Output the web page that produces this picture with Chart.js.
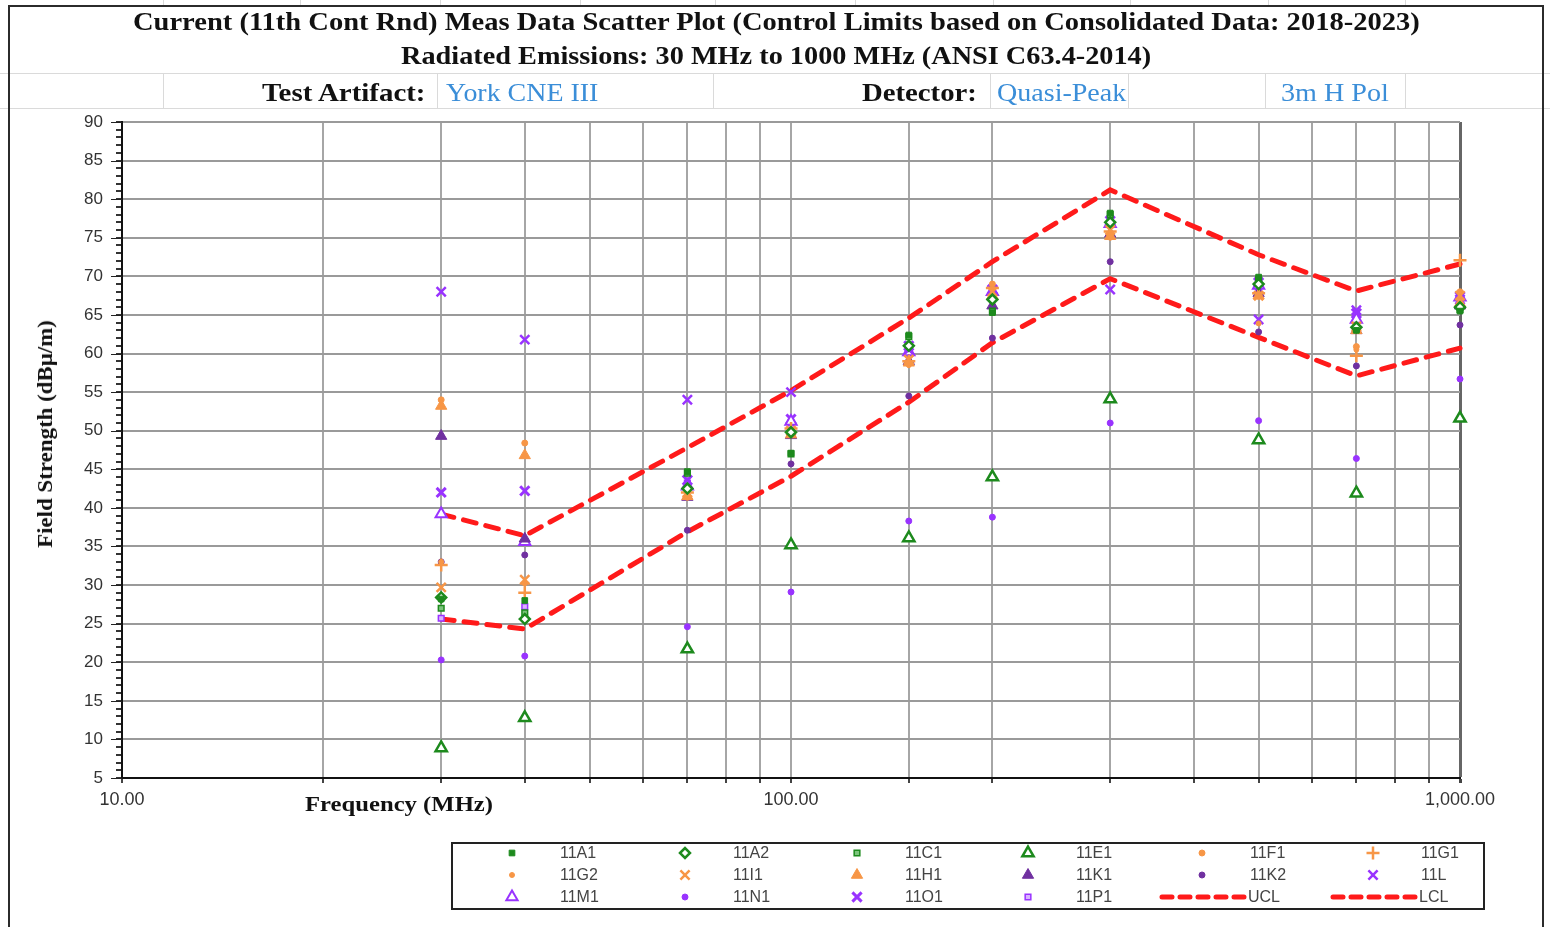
<!DOCTYPE html>
<html>
<head>
<meta charset="utf-8">
<script src="https://cdn.jsdelivr.net/npm/chart.js@4.4.1/dist/chart.umd.min.js"></script>
<style>
  html, body { margin: 0; padding: 0; background: #fff; }
  #page { position: relative; width: 1550px; height: 927px; overflow: hidden; }
  #chart { position: absolute; left: 0; top: 0; }
  .cell { position: absolute; background: #dadada; }
  .frame { position: absolute; background: #2b2b2b; }
  .txt {
    position: absolute; white-space: nowrap; line-height: 1;
    font-family: 'Liberation Serif', 'Times New Roman', serif; font-size: 25px; color: #111;
  }
  .bold { font-weight: bold; }
  .blue { color: #3b8ed8; }
</style>
</head>
<body>
<div id="page">
  <!-- spreadsheet cell lines behind the chart object -->
  <div class="cell" style="left:0;top:73px;width:1550px;height:1px"></div>
  <div class="cell" style="left:0;top:108px;width:1550px;height:1px"></div>
  <div class="cell" style="left:163px;top:0;width:1px;height:5px"></div>
  <div class="cell" style="left:300px;top:0;width:1px;height:5px"></div>
  <div class="cell" style="left:440px;top:0;width:1px;height:5px"></div>
  <div class="cell" style="left:580px;top:0;width:1px;height:5px"></div>
  <div class="cell" style="left:715px;top:0;width:1px;height:5px"></div>
  <div class="cell" style="left:855px;top:0;width:1px;height:5px"></div>
  <div class="cell" style="left:993px;top:0;width:1px;height:5px"></div>
  <div class="cell" style="left:1130px;top:0;width:1px;height:5px"></div>
  <div class="cell" style="left:1268px;top:0;width:1px;height:5px"></div>
  <div class="cell" style="left:1405px;top:0;width:1px;height:5px"></div>
  <div class="cell" style="left:163px;top:74px;width:1px;height:34px"></div>
  <div class="cell" style="left:437px;top:74px;width:1px;height:34px"></div>
  <div class="cell" style="left:713px;top:74px;width:1px;height:34px"></div>
  <div class="cell" style="left:990px;top:74px;width:1px;height:34px"></div>
  <div class="cell" style="left:1128px;top:74px;width:1px;height:34px"></div>
  <div class="cell" style="left:1265px;top:74px;width:1px;height:34px"></div>
  <div class="cell" style="left:1405px;top:74px;width:1px;height:34px"></div>

  <div class="frame" style="left:9px;top:5px;width:1535px;height:2px"></div>
  <div class="frame" style="left:8px;top:5px;width:2px;height:922px"></div>
  <div class="frame" style="left:1542px;top:5px;width:2px;height:922px"></div>

  <canvas id="chart" width="1550" height="927"></canvas>

  <div class="txt bold fit" data-x="133" data-w="1287" style="top:9px">Current (11th Cont Rnd) Meas Data Scatter Plot (Control Limits based on Consolidated Data: 2018-2023)</div>
  <div class="txt bold fit" data-x="401" data-w="750" style="top:43px">Radiated Emissions: 30 MHz to 1000 MHz (ANSI C63.4-2014)</div>
  <div class="txt bold fit" data-x="262" data-w="163" style="top:80px">Test Artifact:</div>
  <div class="txt blue fit" data-x="446" data-w="152" style="top:80px">York CNE III</div>
  <div class="txt bold fit" data-x="862" data-w="115" style="top:80px">Detector:</div>
  <div class="txt blue fit" data-x="997" data-w="129" style="top:80px">Quasi-Peak</div>
  <div class="txt blue fit" data-x="1281" data-w="108" style="top:80px">3m H Pol</div>
  <div class="txt bold fitc" data-cx="45" data-cy="434" data-w="228" data-rot="-90" style="font-size:20px">Field Strength (dBμ/m)</div>
  <div class="txt bold fitc" data-cx="399" data-cy="804" data-w="188" style="font-size:21px">Frequency (MHz)</div>
</div>

<script>
// Frequencies (MHz) of the measurement points
const freqs = [30, 40, 70, 100, 150, 200, 300, 500, 700, 1000];

// Control limits (dBμV/m)
const ucl = [39.2, 36.4, 47.8, 55.2, 64.6, 71.9, 81.2, 72.8, 68.1, 71.6];
const lcl = [25.6, 24.3, 36.9, 44.1, 53.7, 61.4, 69.7, 62.1, 57.1, 60.7];

// Lab measurements (dBμV/m), one value per frequency
const s11A1 = [28.2, 28.0, 44.7, 47.1, 62.4, 65.3, 78.2, 69.9, 63.0, 65.5];
const s11A2 = [28.4, 25.6, 42.5, 49.8, 61.0, 67.0, 77.0, 69.0, 63.4, 66.0];
const s11C1 = [27.0, 26.4, 44.5, 47.0, 62.2, 65.5, 78.0, 69.6, 63.2, 65.7];
const s11E1 = [8.9, 12.8, 21.7, 35.2, 36.1, 44.0, 54.1, 48.8, 41.9, 51.6];
const s11F1 = [54.0, 48.4, 41.6, 50.0, 58.8, 69.0, 75.3, 67.6, 60.9, 68.0];
const s11G1 = [32.6, 29.0, 42.0, 50.3, 59.0, 68.5, 75.8, 67.8, 59.7, 72.1];
const s11G2 = [33.0, 30.2, 41.3, 49.5, 58.5, 67.2, 75.0, 63.9, 60.5, 67.9];
const s11I1 = [29.7, 30.7, 42.0, 50.0, 59.2, 68.0, 76.0, 67.5, 63.5, 67.5];
const s11H1 = [53.2, 46.8, 41.5, 49.5, 58.8, 67.5, 75.2, 67.5, 63.0, 66.5];
const s11K1 = [49.3, 36.0, 41.4, 49.4, 59.0, 66.2, 75.5, 67.8, 63.0, 66.2];
const s11K2 = [33.0, 33.9, 37.1, 45.7, 54.5, 62.0, 71.9, 62.8, 58.4, 63.7];
const s11L  = [68.0, 61.8, 54.0, 55.0, 60.5, 68.2, 68.3, 64.4, 65.6, 67.0];
const s11M1 = [39.2, 35.6, 42.8, 51.2, 60.2, 68.0, 76.8, 68.8, 64.4, 67.3];
const s11N1 = [20.3, 20.8, 24.6, 29.1, 38.3, 38.8, 51.0, 51.3, 46.4, 56.7];
const s11O1 = [42.0, 42.2, 43.6, 51.5, 61.0, 68.3, 77.2, 69.2, 65.2, 67.4];
const s11P1 = [25.7, 27.2, 43.2, 51.0, 60.5, 67.8, 77.5, 68.6, 64.0, 66.8];

// Axis ticks
const xTickLabels = { 10: '10.00', 100: '100.00', 1000: '1,000.00' };
const yMin = 5, yMax = 90;

// Colours
const GREEN = '#1d8a1d';
const ORANGE = '#f79646';
const PURPLE = '#9933ff';
const DPURPLE = '#7030a0';
const RED = '#ff1a1a';

const series = [
  { label: '11A1', data: s11A1, style: 'rect',     r: 4,   fill: GREEN,   line: GREEN,   bw: 1 },
  { label: '11A2', data: s11A2, style: 'rectRot',  r: 5,   fill: '#fff',  line: GREEN,   bw: 2.5 },
  { label: '11C1', data: s11C1, style: 'rect',     r: 4,   fill: '#7cc47c', line: GREEN, bw: 1.5 },
  { label: '11E1', data: s11E1, style: 'triangle', r: 6.5, fill: '#fff',  line: GREEN,   bw: 2.5 },
  { label: '11F1', data: s11F1, style: 'circle',   r: 3,   fill: ORANGE,  line: ORANGE,  bw: 1 },
  { label: '11G1', data: s11G1, style: 'cross',    r: 6.5, fill: ORANGE,  line: ORANGE,  bw: 2.5 },
  { label: '11G2', data: s11G2, style: 'circle',   r: 2.5, fill: ORANGE,  line: ORANGE,  bw: 1 },
  { label: '11I1', data: s11I1, style: 'crossRot', r: 6.5, fill: ORANGE,  line: ORANGE,  bw: 2.5 },
  { label: '11H1', data: s11H1, style: 'triangle', r: 6.5, fill: ORANGE,  line: ORANGE,  bw: 1 },
  { label: '11K1', data: s11K1, style: 'triangle', r: 6.5, fill: DPURPLE, line: DPURPLE, bw: 1 },
  { label: '11K2', data: s11K2, style: 'circle',   r: 3,   fill: DPURPLE, line: DPURPLE, bw: 1 },
  { label: '11L',  data: s11L,  style: 'crossRot', r: 6.5, fill: PURPLE,  line: PURPLE,  bw: 2.5 },
  { label: '11M1', data: s11M1, style: 'triangle', r: 6.5, fill: '#fff',  line: PURPLE,  bw: 2 },
  { label: '11N1', data: s11N1, style: 'circle',   r: 3,   fill: PURPLE,  line: PURPLE,  bw: 1 },
  { label: '11O1', data: s11O1, style: 'crossRot', r: 6.5, fill: PURPLE,  line: PURPLE,  bw: 3 },
  { label: '11P1', data: s11P1, style: 'rect',     r: 4,   fill: '#d9b3ff', line: PURPLE, bw: 1.5 }
];

const toPoints = vals => freqs.map((f, i) => ({ x: f, y: vals[i] }));

const datasets = series.map(s => ({
  type: 'scatter',
  label: s.label,
  data: toPoints(s.data),
  pointStyle: s.style,
  pointRadius: s.r,
  backgroundColor: s.fill,
  borderColor: s.line,
  pointBorderWidth: s.bw,
  clip: false,
  order: 0
}));

[['UCL', ucl], ['LCL', lcl]].forEach(([label, vals]) => {
  datasets.push({
    type: 'line',
    label: label,
    data: toPoints(vals),
    borderColor: RED,
    borderWidth: 5,
    borderDash: [13, 10],
    borderCapStyle: 'round',
    pointRadius: 0,
    fill: false,
    tension: 0,
    clip: 4,
    order: 1
  });
});

// legend box under the plot, 6 columns x 3 rows
const legendBox = { left: 452, top: 843, width: 1032, height: 66 };
const legendCols = [512, 685, 857, 1028, 1202, 1373];
const legendRows = [853, 875, 897];

const boxLegend = {
  id: 'boxLegend',
  afterDraw(chart) {
    const ctx = chart.ctx;
    const yScale = chart.scales.y;
    ctx.save();

    // longer major ticks on the y axis
    ctx.strokeStyle = '#222';
    ctx.lineWidth = 1;
    for (let v = yMin; v <= yMax; v += 5) {
      const py = Math.round(yScale.getPixelForValue(v)) + 0.5;
      ctx.beginPath();
      ctx.moveTo(chart.chartArea.left - 11, py);
      ctx.lineTo(chart.chartArea.left, py);
      ctx.stroke();
    }

    ctx.strokeStyle = '#222';
    ctx.lineWidth = 2;
    ctx.strokeRect(legendBox.left, legendBox.top, legendBox.width, legendBox.height);

    ctx.font = '16px "Liberation Sans", Arial, sans-serif';
    ctx.fillStyle = '#444';
    ctx.textBaseline = 'middle';

    chart.data.datasets.forEach((ds, i) => {
      const mx = legendCols[i % 6];
      const my = legendRows[Math.floor(i / 6)];
      if (ds.type === 'line') {
        ctx.save();
        ctx.strokeStyle = ds.borderColor;
        ctx.lineWidth = ds.borderWidth;
        ctx.lineCap = 'round';
        ctx.setLineDash([10, 8]);
        ctx.beginPath();
        ctx.moveTo(mx - 40, my);
        ctx.lineTo(mx + 42, my);
        ctx.stroke();
        ctx.restore();
        ctx.fillStyle = '#444';
        ctx.fillText(ds.label, mx + 46, my + 1);
      } else {
        ctx.save();
        ctx.fillStyle = ds.backgroundColor;
        ctx.strokeStyle = ds.borderColor;
        ctx.lineWidth = ds.pointBorderWidth;
        const opts = { pointStyle: ds.pointStyle, radius: ds.pointRadius, rotation: 0, borderWidth: ds.pointBorderWidth };
        if (Chart.helpers && Chart.helpers.drawPoint) {
          Chart.helpers.drawPoint(ctx, opts, mx, my);
        } else {
          ctx.beginPath();
          ctx.arc(mx, my, ds.pointRadius, 0, Math.PI * 2);
          ctx.fill();
        }
        ctx.restore();
        ctx.fillStyle = '#444';
        ctx.fillText(ds.label, mx + 48, my + 1);
      }
    });
    ctx.restore();
  }
};

new Chart(document.getElementById('chart'), {
  data: { datasets: datasets },
  options: {
    responsive: false,
    animation: false,
    layout: { padding: { top: 122, right: 90, left: 0, bottom: 0 } },
    plugins: { legend: { display: false }, tooltip: { enabled: false }, title: { display: false } },
    scales: {
      x: {
        type: 'logarithmic',
        min: 10,
        max: 1000,
        afterFit: s => { s.height = 149; },
        border: { color: '#111', width: 2 },
        grid: {
          color: ctx => (ctx.tick && ctx.tick.value === 1000 ? '#666' : '#a6a6a6'),
          lineWidth: ctx => (ctx.tick && ctx.tick.value === 1000 ? 3 : 2),
          tickColor: '#444',
          tickLength: 5
        },
        ticks: {
          autoSkip: false,
          maxRotation: 0,
          padding: 6,
          color: '#333',
          font: { family: '"Liberation Sans", Arial, sans-serif', size: 18 },
          callback: v => xTickLabels[v] || ''
        }
      },
      y: {
        min: yMin,
        max: yMax,
        afterFit: s => { s.width = 122; },
        border: { color: '#111', width: 2 },
        grid: {
          color: ctx => (ctx.tick && ctx.tick.value % 5 === 0 ? '#9a9a9a' : 'rgba(0,0,0,0)'),
          lineWidth: 2,
          tickColor: '#333',
          tickLength: 6
        },
        ticks: {
          stepSize: 1,
          autoSkip: false,
          padding: 13,
          color: '#333',
          font: { family: '"Liberation Sans", Arial, sans-serif', size: 17 },
          callback: v => (v % 5 === 0 ? v : '')
        }
      }
    }
  },
  plugins: [boxLegend]
});

// stretch header/axis texts to the widths they have in the sheet
document.querySelectorAll('.fit').forEach(el => {
  const k = +el.dataset.w / el.offsetWidth;
  el.style.left = el.dataset.x + 'px';
  el.style.transformOrigin = 'left center';
  el.style.transform = `scaleX(${k})`;
});
document.querySelectorAll('.fitc').forEach(el => {
  const k = +el.dataset.w / el.offsetWidth;
  const rot = el.dataset.rot ? `rotate(${el.dataset.rot}deg) ` : '';
  el.style.left = el.dataset.cx + 'px';
  el.style.top = el.dataset.cy + 'px';
  el.style.transform = `translate(-50%, -50%) ${rot}scaleX(${k})`;
});
</script>
</body>
</html>
